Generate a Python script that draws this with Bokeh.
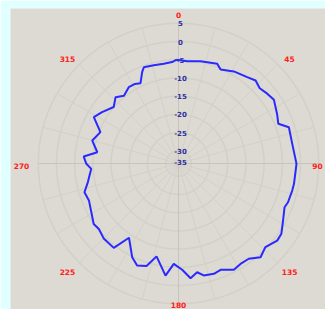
import numpy as np
from bokeh.plotting import figure
from bokeh.core.properties import value
from bokeh.embed import file_html
from bokeh.resources import INLINE

# Measured pattern: azimuth (deg, clockwise from north) and gain (dB)
angles = [359, 4.8, 12.2, 21.2, 24.1, 31.0, 38.5, 42.9, 47.2, 51.8, 56.3, 63.3, 68.3,
          71.8, 80.2, 90.2, 100.0, 103.4, 109.5, 112.4, 118.6, 124.3, 128.0, 133.9,
          138.8, 143.6, 148.3, 152.5, 158.4, 162.2, 167.3, 170.3, 174.0, 178.0, 182.7,
          186.6, 193.3, 197.3, 202.1, 206.3, 213.7, 217.5, 224.7, 230.6, 234.5, 247.6,
          253.0, 258.4, 266.5, 269.8, 274.2, 277.9, 284.9, 291.9, 298.7, 303.9, 311.1,
          316.5, 321.2, 326.9, 331.3, 334.7, 338.3, 340.2, 345.9, 351.6, 356.4]
gain_db = [-5.0, -5.3, -4.8, -4.1, -5.2, -4.0, -3.2, -2.4, -3.1, -2.5, -2.0, -3.2, -4.0,
           -1.6, -1.8, -1.1, -1.3, -1.4, -1.6, -2.0, -0.8, 0.7, 0.9, -0.4,
           0.7, -1.0, -1.1, -0.6, -2.1, -1.7, -2.0, -3.2, -1.8, -4.3, -5.9,
           -2.5, -7.3, -4.0, -3.3, -4.8, -9.0, -4.3, -4.4, -5.2, -4.9, -6.9,
           -6.5, -8.1, -9.5, -8.2, -7.4, -11.0, -9.0, -10.4, -7.0, -8.2, -9.9,
           -8.4, -9.6, -8.5, -8.6, -9.1, -6.5, -5.4, -5.7, -5.8, -5.6]

ring_values = [5, 0, -5, -10, -15, -20, -25, -30]
ring_labels = ["5", "0", "-5", "-10", "-15", "-20", "-25", "-30", "-35"]
ring_label_values = [5, 0, -5, -10, -15, -20, -25, -30, -33]
angle_ticks = [0, 45, 90, 135, 180, 225, 270, 315]
angle_labels = ["0", "45", "90", "135", "180", "225", "270", "315"]

R0 = 122.0   # radius of 0 dB ring
K = 3.64     # radius per dB


def rad(v):
    return R0 + K * np.asarray(v, dtype=float)


def to_xy(ang_deg, v):
    t = np.radians(np.asarray(ang_deg, dtype=float))
    r = rad(v)
    return r * np.sin(t), r * np.cos(t)


p = figure(width=325, height=309, output_backend="svg", toolbar_location=None,
           x_range=(-168, 147), y_range=(-146, 155))
p.min_border_left = 10
p.min_border_right = 0
p.min_border_top = 8
p.min_border_bottom = 0
p.border_fill_color = "#e0ffff"
p.background_fill_color = "#dcdad3"
p.outline_line_color = None
p.xaxis.visible = False
p.yaxis.visible = False
p.grid.visible = False

rmax = float(rad(5))
# rings
th = np.linspace(0, 2 * np.pi, 241)
for v in ring_values:
    r = float(rad(v))
    p.line(r * np.sin(th), r * np.cos(th), line_color="#d2d0c9", line_width=1.5)
# spokes
for a in range(0, 360, 15):
    t = np.radians(a)
    col = "#c6c4bd" if a % 90 == 0 else "#d3d1ca"
    p.line([0, rmax * np.sin(t)], [0, rmax * np.cos(t)], line_color=col, line_width=1)

# ring labels
ly = rad(ring_label_values)
p.text(x=[2] * len(ring_labels), y=list(ly), text=ring_labels,
       text_font=value("DejaVu Sans"), text_font_style="bold", text_font_size="7px",
       text_color="#3030a0", text_align="center", text_baseline="middle")

# angle labels (90 and 180 pulled inside the frame)
ta = np.radians(angle_ticks)
ax = 157 * np.sin(ta)
ay = 151 * np.cos(ta) - 2
ax = np.clip(ax, -160, 139)
ay = np.clip(ay, -141, 150)
p.text(x=list(ax), y=list(ay), text=angle_labels,
       text_font=value("DejaVu Sans"), text_font_style="bold", text_font_size="7.5px",
       text_color="#ff2020", text_align="center", text_baseline="middle")

# pattern curve
x, y = to_xy(angles + [angles[0]], gain_db + [gain_db[0]])
p.line(x, y, line_color="#2a2aff", line_width=2)

open("out.html", "w").write(file_html(p, INLINE))
